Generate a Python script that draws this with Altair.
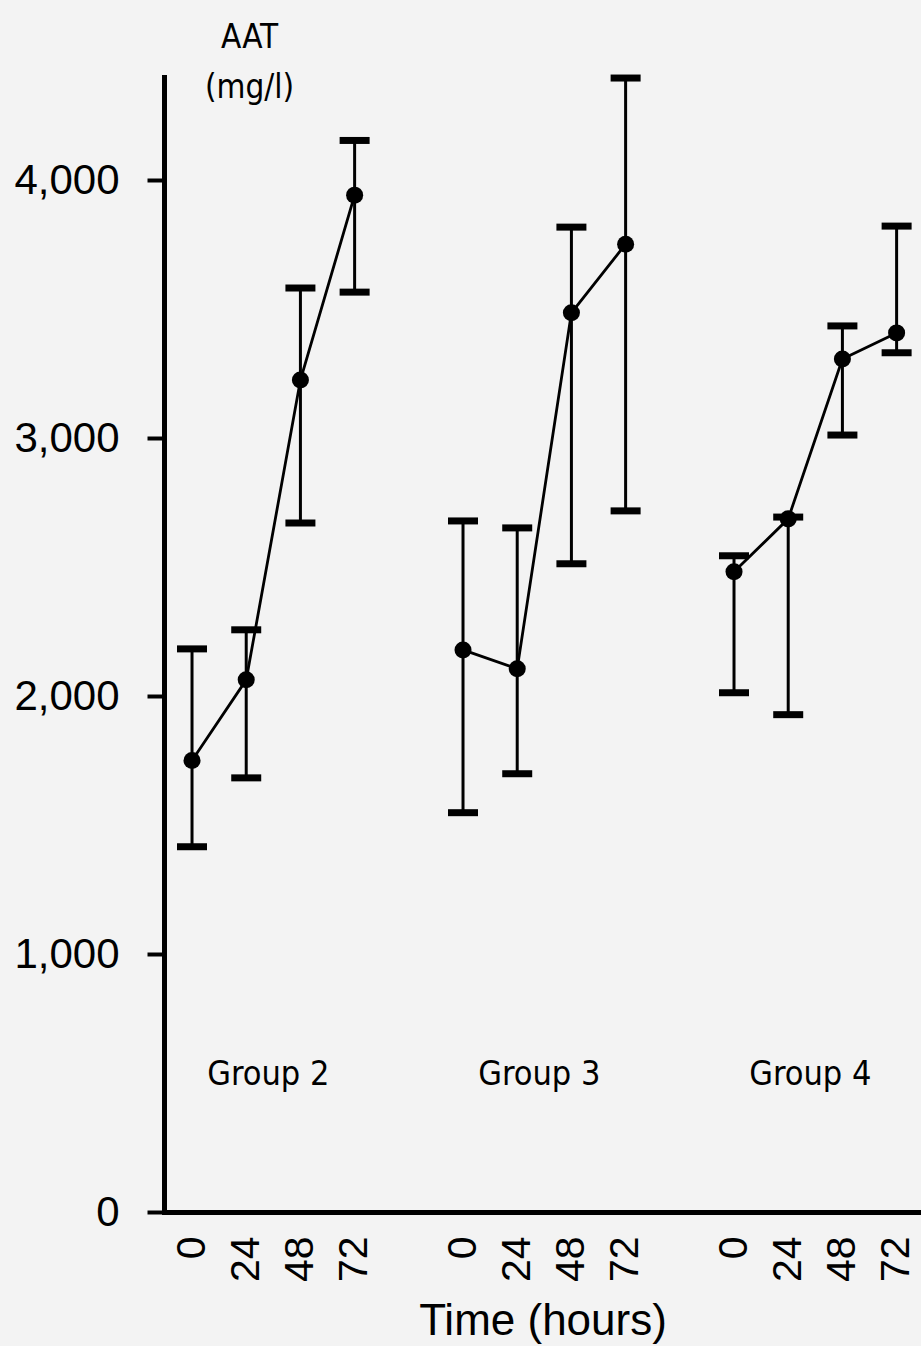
import altair as alt
import pandas as pd

# AAT (mg/l) over time, mean with error bars, per treatment group
groups = ["Group 2", "Group 3", "Group 4"]
times = [0, 24, 48, 72]

g2_mean = [1750, 2063, 3225, 3942]
g2_upper = [2183, 2257, 3582, 4154]
g2_lower = [1416, 1683, 2671, 3566]

g3_mean = [2179, 2106, 3486, 3752]
g3_upper = [2679, 2652, 3818, 4396]
g3_lower = [1548, 1699, 2513, 2718]

g4_mean = [2482, 2687, 3307, 3408]
g4_upper = [2544, 2694, 3435, 3822]
g4_lower = [2013, 1928, 3012, 3331]

y_ticks = [0, 1000, 2000, 3000, 4000]

series = [
    (g2_mean, g2_upper, g2_lower),
    (g3_mean, g3_upper, g3_lower),
    (g4_mean, g4_upper, g4_lower),
]

# one slot per time point, with an empty slot between groups
SLOTS_PER_GROUP = len(times) + 1

rows = []
for gi, (name, (m, up, lo)) in enumerate(zip(groups, series)):
    for ti, t in enumerate(times):
        rows.append({
            "group": name,
            "time": t,
            "slot": gi * SLOTS_PER_GROUP + ti,
            "mean": m[ti],
            "upper": up[ti],
            "lower": lo[ti],
        })
df = pd.DataFrame(rows)

labels_df = pd.DataFrame({
    "group": groups,
    "slot": [gi * SLOTS_PER_GROUP + (len(times) - 1) / 2 for gi in range(len(groups))],
})

slot_values = df["slot"].tolist()
time_labels = "[" + ",".join(f"'{t}'" for t in times) + "]"

FONT = "Liberation Sans"
NARROW = "'DejaVu Sans Condensed', 'Liberation Sans', sans-serif"

x_scale = alt.Scale(domain=[-0.517, 13.45], nice=False, zero=False)
y_scale = alt.Scale(domain=[0, 4400], nice=False, zero=True)

x_enc = alt.X(
    "slot:Q",
    scale=x_scale,
    axis=alt.Axis(
        values=slot_values,
        labelExpr=f"{time_labels}[datum.value % {SLOTS_PER_GROUP}]",
        labelAngle=270,
        ticks=False,
        tickSize=0,
        labelPadding=24,
        labelFont=FONT,
        labelFontSize=41,
        labelColor="black",
        labelFlush=False,
        labelOverlap=False,
        grid=False,
        domainColor="black",
        domainWidth=5,
        domainCap="square",
        title="Time (hours)",
        titleFont=FONT,
        titleFontSize=44,
        titleFontWeight="normal",
        titleColor="black",
        titleBaseline="alphabetic",
        titleY=122,
    ),
)

y_axis = alt.Axis(
    values=y_ticks,
    format=",d",
    labelFont=FONT,
    labelFontSize=42,
    labelColor="black",
    labelPadding=28,
    labelFlush=False,
    tickSize=17,
    tickWidth=4,
    tickColor="black",
    grid=False,
    domainColor="black",
    domainWidth=5,
    domainCap="square",
    title=["AAT", "(mg/l)"],
    titleFont=NARROW,
    titleFontSize=33,
    titleFontWeight="normal",
    titleColor="black",
    titleAngle=0,
    titleAlign="center",
    titleBaseline="alphabetic",
    titleLineHeight=50,
    titleX=85,
    titleY=-30,
)

base = alt.Chart(df)

whiskers = base.mark_rule(color="black", strokeWidth=3).encode(
    x=x_enc,
    y=alt.Y("lower:Q", scale=y_scale, axis=y_axis),
    y2="upper:Q",
)

cap_upper = base.mark_tick(orient="horizontal", color="black", thickness=7, size=30, opacity=1).encode(
    x="slot:Q", y="upper:Q"
)
cap_lower = base.mark_tick(orient="horizontal", color="black", thickness=7, size=30, opacity=1).encode(
    x="slot:Q", y="lower:Q"
)

trend = base.mark_line(color="black", strokeWidth=2.8).encode(
    x="slot:Q", y="mean:Q", detail="group:N", order="slot:Q"
)

points = base.mark_circle(color="black", size=290, opacity=1).encode(
    x="slot:Q", y="mean:Q"
)

group_text = alt.Chart(labels_df).mark_text(
    font=NARROW, fontSize=34, color="black", align="center", baseline="alphabetic", dx=-5
).encode(
    x="slot:Q",
    y=alt.value(1008),
    text="group:N",
)

chart = alt.layer(whiskers, cap_upper, cap_lower, trend, points, group_text).properties(
    width=757,
    height=1135,
    background="#f3f3f3",
    autosize=alt.AutoSizeParams(type="none"),
    padding={"left": 164, "top": 77, "right": 0, "bottom": 134},
).configure_view(stroke=None)

chart.save("out.html", embed_options={"renderer": "svg", "actions": False})
